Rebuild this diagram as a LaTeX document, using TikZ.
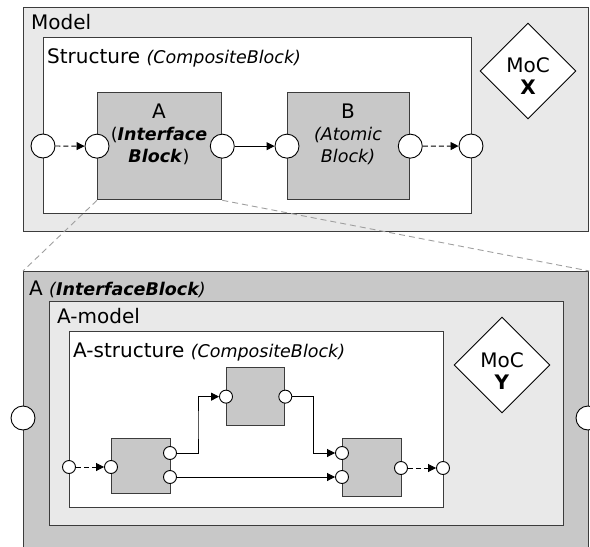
\documentclass[tikz,border=0pt]{standalone}
\usepackage{fontspec}
\setmainfont{DejaVu Sans}
\usetikzlibrary{arrows.meta, positioning, calc, shapes.geometric}
\definecolor{mgray}{HTML}{E9E9E9}
\definecolor{bgray}{HTML}{C8C8C8}
\definecolor{bline}{HTML}{3C3C3C}
\newcommand\bigtxt{\fontsize{20}{22}\selectfont}
\newcommand\smltxt{\fontsize{17.5}{22}\selectfont}

\begin{document}
\begin{tikzpicture}[x=1pt, y=-1pt,
  box/.style={rectangle, draw=bline, line width=1.3pt, inner sep=0pt, anchor=north west},
  blk/.style={box, fill=bgray},
  port/.style={circle, draw=black, fill=white, line width=0.9pt, minimum size=24pt, inner sep=0pt},
  sport/.style={port, minimum size=13pt},
  moc/.style={diamond, draw=black, fill=white, line width=0.9pt, minimum width=96pt, minimum height=96pt, inner sep=0pt},
  txt/.style={inner sep=0pt, font=\bigtxt},
  flow/.style={-{Triangle[length=8pt,width=8pt]}, line width=0.9pt},
  dflow/.style={flow, dash pattern=on 5pt off 3pt},
  zoomln/.style={draw=gray!75, line width=0.9pt, dash pattern=on 6pt off 4pt}]
\useasboundingbox (0,0) rectangle (590,547);
\clip (0,0) rectangle (590,547);

% upper model
\node[box, fill=mgray, minimum width=565pt, minimum height=224pt] (model) at (23,7) {};
\node[txt, anchor=base west] (lModel) at (31,29) {Model};
\node[box, fill=white, minimum width=428pt, minimum height=176pt] (struct) at (43,37) {};
\node[txt, anchor=base west] (lStruct) at (47,63) {Structure {\smltxt\itshape (CompositeBlock)}};
\node[blk, minimum width=124pt, minimum height=107pt] (blkA) at (97,92) {};
\node[blk, minimum width=122pt, minimum height=107pt] (blkB) at (287,92) {};
\node[txt, anchor=north, align=center, font=\smltxt] (tA) at (159,104)
  {{\bigtxt A}\\(\textbf{\itshape Interface}\\\textbf{\itshape Block})};
\node[txt, anchor=north, align=center, font=\smltxt\itshape] (tB) at (348,104)
  {{\bigtxt\upshape B}\\(Atomic\\Block)};
\node[port] (sIn) at (43,146) {};
\node[port] (pAin) at (blkA.west) {};
\node[port] (pAout) at (blkA.east) {};
\node[port] (pBin) at (blkB.west) {};
\node[port] (pBout) at (blkB.east) {};
\node[port] (sOut) at (471,146) {};
\draw[dflow] (sIn) -- (pAin);
\draw[flow] (pAout) -- (pBin);
\draw[dflow] (pBout) -- (sOut);
\node[moc] (mocX) at (528,71) {};
\node[txt, anchor=north, align=center, font=\bigtxt] (tX) at (528,57) {MoC\\\textbf{X}};

% lower interface block
\node[blk, minimum width=565pt, minimum height=300pt] (ifc) at (23,271) {};
\node[txt, anchor=base west] (lIfc) at (29,295) {A {\smltxt\itshape(\textbf{InterfaceBlock})}};
\node[box, fill=mgray, minimum width=514pt, minimum height=224pt] (amodel) at (49,301) {};
\node[txt, anchor=base west] (lAmodel) at (57,323) {A-model};
\node[box, fill=white, minimum width=374pt, minimum height=176pt] (astruct) at (69,331) {};
\node[txt, anchor=base west] (lAstruct) at (73,357) {A-structure {\smltxt\itshape (CompositeBlock)}};
\node[port] (iIn) at (23,418) {};
\node[port] (iOut) at (588,418) {};
\node[blk, minimum width=59pt, minimum height=55pt] (b1) at (111,438) {};
\node[blk, minimum width=58pt, minimum height=58pt] (b2) at (226,367) {};
\node[blk, minimum width=59pt, minimum height=58pt] (b3) at (342,438) {};
\node[sport] (asIn) at (69,467) {};
\node[sport] (b1in) at (111,467) {};
\node[sport] (b1o1) at (170,453) {};
\node[sport] (b1o2) at (170,477) {};
\node[sport] (b2in) at (b2.west) {};
\node[sport] (b2out) at (b2.east) {};
\node[sport] (b3i1) at (342,453) {};
\node[sport] (b3i2) at (342,477) {};
\node[sport] (b3out) at (401,468) {};
\node[sport] (asOut) at (443,468) {};
\draw[dflow] (asIn) -- (b1in);
\draw[flow] (b1o1) -| ($(b1o1)!0.5!(b2in)$) |- (b2in);
\draw[flow] (b2out) -| ($(b2out)!0.5!(b3i1)$) |- (b3i1);
\draw[flow] (b1o2) -- (b3i2);
\draw[dflow] (b3out) -- (asOut);
\node[moc] (mocY) at (502,365) {};
\node[txt, anchor=north, align=center, font=\bigtxt] (tY) at (502,352) {MoC\\\textbf{Y}};

% zoom lines
\draw[zoomln] (blkA.south west) -- (ifc.north west);
\draw[zoomln] (blkA.south east) -- (ifc.north east);
\end{tikzpicture}
\end{document}
